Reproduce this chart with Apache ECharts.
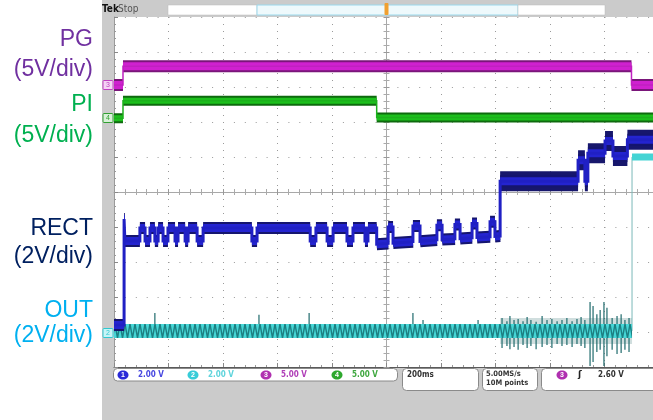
<!DOCTYPE html>
<html><head><meta charset="utf-8">
<script src="https://cdn.jsdelivr.net/npm/echarts@6/dist/echarts.min.js"></script>
<style>
html,body{margin:0;padding:0;background:#fff;overflow:hidden}
#wrap{width:653px;height:420px;overflow:hidden;position:relative;background:linear-gradient(to right,#ffffff 102px,#cbcbcb 102px)}
#c{width:680px;height:420px;position:absolute;left:0;top:0}
</style>
</head><body><div id="wrap"><div id="c"></div></div><script>
// Time in ms (200 ms/div, trigger at 0). Levels in screen divisions (graticule centre = 0).
const pgT = [-1000, -967, -967, 899, 899, 1000];
const pgV = [3.06, 3.06, 3.59, 3.59, 3.06, 3.06];

const piT = [-1000, -967, -967, -36, -36, 1000];
const piV = [2.11, 2.11, 2.61, 2.61, 2.13, 2.13];

const rectT = [-1000, -963, -963, -960, -960, -905, -905, -886, -886, -868, -868, -850, -850, -838, -838, -820, -820, -802, -802, -776, -776, -765, -765, -739, -739, -728, -728, -695, -695, -673, -673, -494, -494, -475, -475, -280, -280, -259, -259, -218, -218, -196, -196, -145, -145, -123, -123, -79, -79, -68, -68, -36, -36, 6, 6, 24, 24, 97, 97, 123, 123, 185, 185, 204, 204, 251, 251, 270, 270, 314, 314, 332, 332, 380, 380, 398, 398, 417, 417, 703, 703, 728, 728, 739, 739, 802, 802, 831, 831, 884, 884, 1000];
const rectV = [-3.80, -3.80, -0.77, -0.77, -1.40, -1.40, -1.03, -1.03, -1.40, -1.40, -1.03, -1.03, -1.40, -1.40, -1.03, -1.03, -1.40, -1.40, -1.03, -1.03, -1.40, -1.40, -1.03, -1.03, -1.40, -1.40, -1.03, -1.03, -1.40, -1.40, -1.03, -1.03, -1.40, -1.40, -1.03, -1.03, -1.40, -1.40, -1.03, -1.03, -1.40, -1.40, -1.03, -1.03, -1.40, -1.40, -1.03, -1.03, -1.40, -1.40, -1.03, -1.03, -1.49, -1.47, -1.00, -1.00, -1.46, -1.42, -0.97, -0.97, -1.41, -1.37, -0.95, -0.95, -1.36, -1.34, -0.93, -0.93, -1.33, -1.31, -0.90, -0.90, -1.30, -1.28, -0.85, -0.85, -1.27, -1.26, 0.31, 0.31, 0.91, 0.91, 0.31, 0.31, 1.11, 1.11, 1.46, 1.46, 1.03, 1.03, 1.49, 1.49];
const rectNoiseFrom = 417;

const outT = [-1000, 901, 901, 1000];
const outV = [-3.97, -3.97, 1.00, 1.00];
const outNoiseT = [417, 901];
const outNoiseV = [-3.97, -3.97];
const spikeT  = [-850, -468, -284, 97, 134, 336,
  424, 442, 453, 468, 483, 501, 516, 530, 549, 571, 589, 607, 626, 644, 662, 681, 699, 714, 728, 747, 758, 772, 784, 798, 809, 828, 846, 861, 875, 890];
const spikeHi = [-3.46, -3.51, -3.46, -3.46, -3.66, -3.66,
  -3.60, -3.69, -3.54, -3.66, -3.63, -3.69, -3.57, -3.66, -3.71, -3.54, -3.66, -3.63, -3.69, -3.66, -3.60, -3.69, -3.63, -3.57, -3.66, -3.14, -3.26, -3.49, -3.37, -3.14, -3.31, -3.60, -3.54, -3.49, -3.66, -3.60];
const spikeLo = [-3.97, -3.97, -3.97, -3.97, -3.97, -3.97,
  -4.46, -4.40, -4.49, -4.43, -4.51, -4.37, -4.46, -4.40, -4.49, -4.43, -4.37, -4.46, -4.34, -4.40, -4.37, -4.43, -4.34, -4.40, -4.46, -4.97, -4.86, -4.57, -4.51, -4.97, -4.69, -4.51, -4.63, -4.60, -4.51, -4.57];

const leftLabels = [['PG', '(5V/div)'], ['PI', '(5V/div)'], ['RECT', '(2V/div)'], ['OUT', '(2V/div)']];
const chNames = ['1', '2', '3', '4'];
const chScales = ['2.00 V', '2.00 V', '5.00 V', '5.00 V'];
const timeBase = '200ms';
const acqText = ['5.00MS/s', '10M points'];
const trigText = ['3', '2.60 V'];

function pts(T, V) { return T.map((t, i) => [t, V[i]]); }
function bands(T, V, keep) {
  const out = [];
  for (let i = 0; i < T.length - 1; i++) {
    if (T[i + 1] !== T[i] && (!keep || keep(T[i], T[i + 1]))) {
      out.push([T[i], V[i]], [T[i + 1], V[i + 1]], [T[i + 1], '-']);
    }
  }
  return out;
}
function spikes() {
  const out = [];
  spikeT.forEach((t, i) => { out.push([t, spikeLo[i]], [t, spikeHi[i]], [t, '-']); });
  return out;
}
function line(id, data, color, width, z, extra) {
  return Object.assign({
    id, type: 'line', data, symbol: 'none', showSymbol: false, silent: true,
    animation: false, connectNulls: false, z: z || 3,
    lineStyle: { color, width, cap: 'butt', join: 'miter' }
  }, extra || {});
}

const chart = echarts.init(document.getElementById('c'), null, { renderer: 'canvas' });

const axBase = { type: 'value', axisLabel: { show: false } };
const xCommon = Object.assign({ min: -1000, max: 1000, interval: 200 }, axBase);
const yCommon = Object.assign({ min: -5, max: 5, interval: 1 }, axBase);

const labelFont = '23px "Liberation Sans", Arial, sans-serif';
const labelColors = ['#7030a0', '#00b050', '#002060', '#00b0f0'];
const labelYs = [[40, 70], [105, 136], [229, 257], [311, 336]];

const graphics = [];
leftLabels.forEach((pair, i) => {
  pair.forEach((txt, j) => {
    graphics.push({ type: 'text', x: 93, y: labelYs[i][j], style: { text: txt, font: labelFont, fill: labelColors[i], align: 'right', verticalAlign: 'middle' } });
  });
});
// top status bar
graphics.push(
  { type: 'text', x: 102, y: 9, style: { text: 'Tek', font: 'bold 10px "DejaVu Sans Condensed", sans-serif', fill: '#111', verticalAlign: 'middle' } },
  { type: 'text', x: 118, y: 9, style: { text: 'Stop', font: '10px "DejaVu Sans Condensed", sans-serif', fill: '#555', verticalAlign: 'middle' } },
  { type: 'rect', shape: { x: 168, y: 5, width: 89, height: 10 }, style: { fill: '#fff', stroke: '#bbb', lineWidth: 0.5 } },
  { type: 'rect', shape: { x: 257, y: 5, width: 261, height: 10 }, style: { fill: '#eef9fc', stroke: '#9ad8ec', lineWidth: 1 } },
  { type: 'rect', shape: { x: 518, y: 5, width: 87, height: 10 }, style: { fill: '#fff', stroke: '#bbb', lineWidth: 0.5 } },
  { type: 'rect', shape: { x: 384.5, y: 3, width: 4, height: 12, r: 1 }, style: { fill: '#f0a030' } }
);
// channel ground markers
const markerDefs = [['3', 85, '#c040c0', '#f4d4f4'], ['4', 118, '#30a030', '#d8f0d8'], ['2', 333, '#30c8d0', '#c8f4f6']];
markerDefs.forEach(m => {
  graphics.push({ type: 'rect', shape: { x: 103, y: m[1] - 4.5, width: 10, height: 9, r: 1 }, style: { fill: m[3], stroke: m[2], lineWidth: 1 }, z: 20 });
  graphics.push({ type: 'text', x: 108, y: m[1], style: { text: m[0], font: '7px sans-serif', fill: m[2], align: 'center', verticalAlign: 'middle' }, z: 21 });
});
// bottom readout
const chColors = ['#2a2ad8', '#38ccd8', '#b030b0', '#2ea82e'];
const chTextColors = ['#4848e0', '#60d4dc', '#b040b8', '#40a840'];
const boxStyle = { fill: '#fff', stroke: '#8a8a8a', lineWidth: 1 };
graphics.push(
  { type: 'rect', shape: { x: 113.5, y: 368.5, width: 284, height: 12.5, r: 4 }, style: boxStyle },
  { type: 'rect', shape: { x: 402.5, y: 368.5, width: 76, height: 22, r: 4 }, style: boxStyle },
  { type: 'rect', shape: { x: 482.5, y: 368.5, width: 55, height: 22, r: 4 }, style: boxStyle },
  { type: 'rect', shape: { x: 541.5, y: 368.5, width: 130, height: 22, r: 4 }, style: boxStyle }
);
const chX = [123, 193, 266, 337];
const roFont = 'bold 8px "DejaVu Sans Condensed", sans-serif';
chNames.forEach((n, i) => {
  graphics.push({ type: 'ellipse', shape: { cx: chX[i], cy: 375, rx: 5.5, ry: 4.5 }, style: { fill: chColors[i] } });
  graphics.push({ type: 'text', x: chX[i], y: 375, style: { text: n, font: 'bold 7px sans-serif', fill: '#fff', align: 'center', verticalAlign: 'middle' } });
  graphics.push({ type: 'text', x: chX[i] + 15, y: 375, style: { text: chScales[i], font: roFont, fill: chTextColors[i], verticalAlign: 'middle' } });
});
graphics.push(
  { type: 'text', x: 407, y: 375, style: { text: timeBase, font: roFont, fill: '#333', verticalAlign: 'middle' } },
  { type: 'text', x: 486, y: 374, style: { text: acqText[0], font: 'bold 7.5px "DejaVu Sans Condensed", sans-serif', fill: '#333', verticalAlign: 'middle' } },
  { type: 'text', x: 486, y: 383, style: { text: acqText[1], font: 'bold 7.5px "DejaVu Sans Condensed", sans-serif', fill: '#333', verticalAlign: 'middle' } },
  { type: 'ellipse', shape: { cx: 562, cy: 375, rx: 5.5, ry: 4.5 }, style: { fill: chColors[2] } },
  { type: 'text', x: 562, y: 375, style: { text: trigText[0], font: 'bold 7px sans-serif', fill: '#fff', align: 'center', verticalAlign: 'middle' } },
  { type: 'text', x: 578, y: 375, style: { text: 'ʃ', font: 'bold 9px "DejaVu Sans", sans-serif', fill: '#222', verticalAlign: 'middle' } },
  { type: 'text', x: 598, y: 375, style: { text: trigText[1], font: roFont, fill: '#333', verticalAlign: 'middle' } }
);

const option = {
  animation: false,
  backgroundColor: 'transparent',
  grid: { left: 114, top: 17, width: 545, height: 350, show: true, backgroundColor: '#ffffff', borderWidth: 0 },
  xAxis: [
    Object.assign({}, xCommon, { position: 'bottom',
      axisLine: { show: true, onZero: false, lineStyle: { color: '#5a5a5a', width: 1 } },
      axisTick: { show: true, inside: true, length: 4, lineStyle: { color: '#888' } },
      minorTick: { show: true, splitNumber: 5, length: 2, lineStyle: { color: '#999' } },
      splitLine: { show: true, lineStyle: { color: '#9a9a9a', width: 1, type: [1, 6] } } }),
    Object.assign({}, xCommon, { position: 'bottom',
      axisLine: { show: true, onZero: true, lineStyle: { color: '#a8a8a8', width: 1 } },
      axisTick: { show: true, inside: true, length: 3, lineStyle: { color: '#999' } },
      minorTick: { show: true, splitNumber: 5, length: 3, lineStyle: { color: '#aaa' } },
      splitLine: { show: false } }),
    Object.assign({}, xCommon, { position: 'top',
      axisLine: { show: false, onZero: true },
      axisTick: { show: true, inside: true, length: 3, lineStyle: { color: '#999' } },
      minorTick: { show: true, splitNumber: 5, length: 3, lineStyle: { color: '#aaa' } },
      splitLine: { show: false } })
  ],
  yAxis: [
    Object.assign({}, yCommon, { position: 'left',
      axisLine: { show: true, onZero: false, lineStyle: { color: '#9a9a9a', width: 1 } },
      axisTick: { show: true, inside: true, length: 4, lineStyle: { color: '#888' } },
      minorTick: { show: true, splitNumber: 5, length: 2, lineStyle: { color: '#999' } },
      splitLine: { show: true, lineStyle: { color: '#9a9a9a', width: 1, type: [1, 9.9] } } }),
    Object.assign({}, yCommon, { position: 'left',
      axisLine: { show: true, onZero: true, lineStyle: { color: '#a8a8a8', width: 1 } },
      axisTick: { show: true, inside: true, length: 3, lineStyle: { color: '#999' } },
      minorTick: { show: true, splitNumber: 5, length: 3, lineStyle: { color: '#aaa' } },
      splitLine: { show: false } }),
    Object.assign({}, yCommon, { position: 'right',
      axisLine: { show: false, onZero: true },
      axisTick: { show: true, inside: true, length: 3, lineStyle: { color: '#999' } },
      minorTick: { show: true, splitNumber: 5, length: 3, lineStyle: { color: '#aaa' } },
      splitLine: { show: false } })
  ],
  graphic: { elements: graphics },
  series: [
    // OUT (ch2, cyan)
    line('outNoise', bands(outNoiseT, outNoiseV), 'rgba(20,90,90,0.2)', 26, 3),
    line('outSpikes', spikes(), '#1f6a6c', 1.2, 4),
    line('outA', bands(outT, outV, (a) => a < 901), '#44d4d4', 14, 5),
    line('outB', bands(outT, outV, (a) => a >= 901), '#44d4d4', 7, 5),
    line('outThin', pts(outT, outV), '#7ab8b8', 1, 4),
    // RECT (ch1, blue)
    line('rectEnv', bands(rectT, rectV, (a) => a >= rectNoiseFrom), '#17176c', 20, 6),
    line('rectOutline', bands(rectT, rectV), '#15156e', 12, 7),
    line('rectCore', bands(rectT, rectV), '#2424d0', 8, 8),
    line('rectThin', pts(rectT, rectV), '#2020c4', 3, 8),
    // PI (ch4, green)
    line('piOutline', bands(piT, piV), '#0e6a0e', 10, 9),
    line('piCore', bands(piT, piV), '#1cc01c', 6, 10),
    line('piThin', pts(piT, piV), '#1cb01c', 1.5, 10),
    // PG (ch3, magenta)
    line('pgOutline', bands(pgT, pgV), '#7a167a', 12, 11),
    line('pgCore', bands(pgT, pgV), '#d020d0', 8, 12),
    line('pgThin', pts(pgT, pgV), '#c020c0', 1.5, 12)
  ]
};
chart.setOption(option);

// zig-zag texture for the oscillating OUT band, aligned to its level on screen
const yc = chart.convertToPixel({ xAxisIndex: 0, yAxisIndex: 0 }, [0, outV[0]])[1];
const tile = document.createElement('canvas');
tile.width = 5; tile.height = 420;
const g = tile.getContext('2d');
g.fillStyle = '#46d6d6'; g.fillRect(0, 0, 5, 420);
g.strokeStyle = '#1d7f82'; g.lineWidth = 1.4;
g.beginPath(); g.moveTo(0, yc - 7); g.lineTo(2.5, yc + 7); g.lineTo(5, yc - 7); g.stroke();
chart.setOption({ series: [{ id: 'outA', lineStyle: { color: { image: tile, repeat: 'repeat' } } }] });
</script></body></html>
